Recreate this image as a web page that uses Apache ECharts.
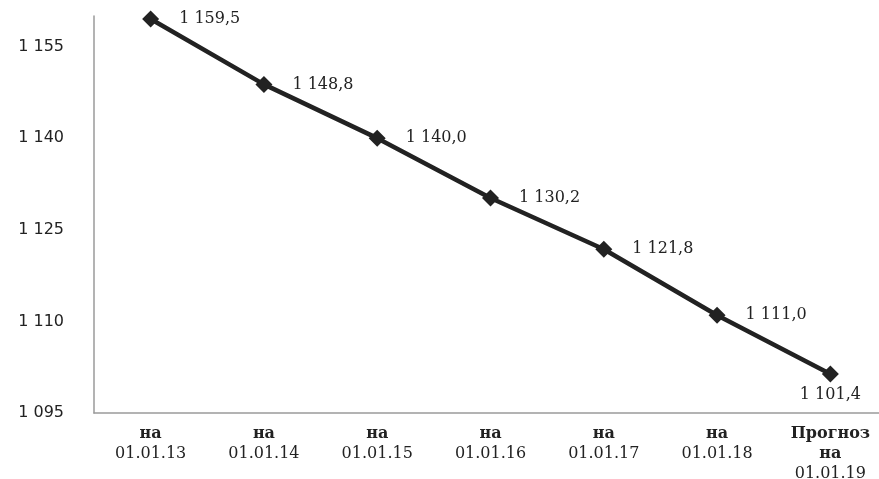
<!DOCTYPE html>
<html><head><meta charset="utf-8">
<script src="https://cdn.jsdelivr.net/npm/echarts@6/dist/echarts.min.js"></script>
<style>html,body{margin:0;padding:0;background:#fff}#c{width:879px;height:479px}</style>
</head><body><div id="c"></div>
<script>
const categories = ['на\n01.01.13','на\n01.01.14','на\n01.01.15','на\n01.01.16','на\n01.01.17','на\n01.01.18','Прогноз\nна\n01.01.19'];
const values = [1159.5, 1148.8, 1140.0, 1130.2, 1121.8, 1111.0, 1101.4];
const yTicks = [1095, 1110, 1125, 1140, 1155];

function fmt(v, dec) {
  const s = dec ? v.toFixed(1).replace('.', ',') : String(v);
  return s.replace(/^(\d)(\d{3})/, '$1 $2');
}

function xLabel(v) {
  const lines = v.split('\n');
  return lines.map(l => /^\d/.test(l) ? '{d|' + l + '}' : '{w|' + l + '}').join('\n');
}

const chart = echarts.init(document.getElementById('c'));
const data = values.map((v, i) => i === values.length - 1
  ? { value: v, label: { position: 'bottom', distance: 4 } }
  : v);
chart.setOption({
  animation: false,
  grid: { left: 94, right: -8, top: 16, bottom: 66, outerBoundsMode: 'none', containLabel: false },
  xAxis: {
    type: 'category', data: categories, boundaryGap: true,
    axisLine: { lineStyle: { color: '#9a9a9a', width: 1.5 } },
    axisTick: { show: false },
    axisLabel: {
      interval: 0, margin: 11, lineHeight: 20, color: '#222',
      formatter: xLabel,
      rich: {
        w: { fontFamily: 'DejaVu Serif', fontSize: 16, fontWeight: 'bold', color: '#222', lineHeight: 20 },
        d: { fontFamily: 'DejaVu Serif', fontSize: 16, color: '#222', lineHeight: 20 }
      }
    }
  },
  yAxis: {
    type: 'value', min: yTicks[0], max: 1160, interval: 15,
    axisLine: { show: true, lineStyle: { color: '#9a9a9a', width: 1.5 } },
    axisTick: { show: false },
    splitLine: { show: false },
    axisLabel: { showMaxLabel: false, margin: 30, fontFamily: 'DejaVu Sans', fontSize: 16, color: '#222', formatter: v => fmt(v, false) }
  },
  series: [{
    type: 'line', data: data,
    symbol: 'diamond', symbolSize: 17,
    lineStyle: { color: '#222', width: 4.5 },
    itemStyle: { color: '#222' },
    label: {
      show: true, position: 'right', distance: 20,
      fontFamily: 'DejaVu Serif', fontSize: 16, color: '#222',
      formatter: p => fmt(p.value, true)
    },
    emphasis: { disabled: true }
  }]
});
</script></body></html>
